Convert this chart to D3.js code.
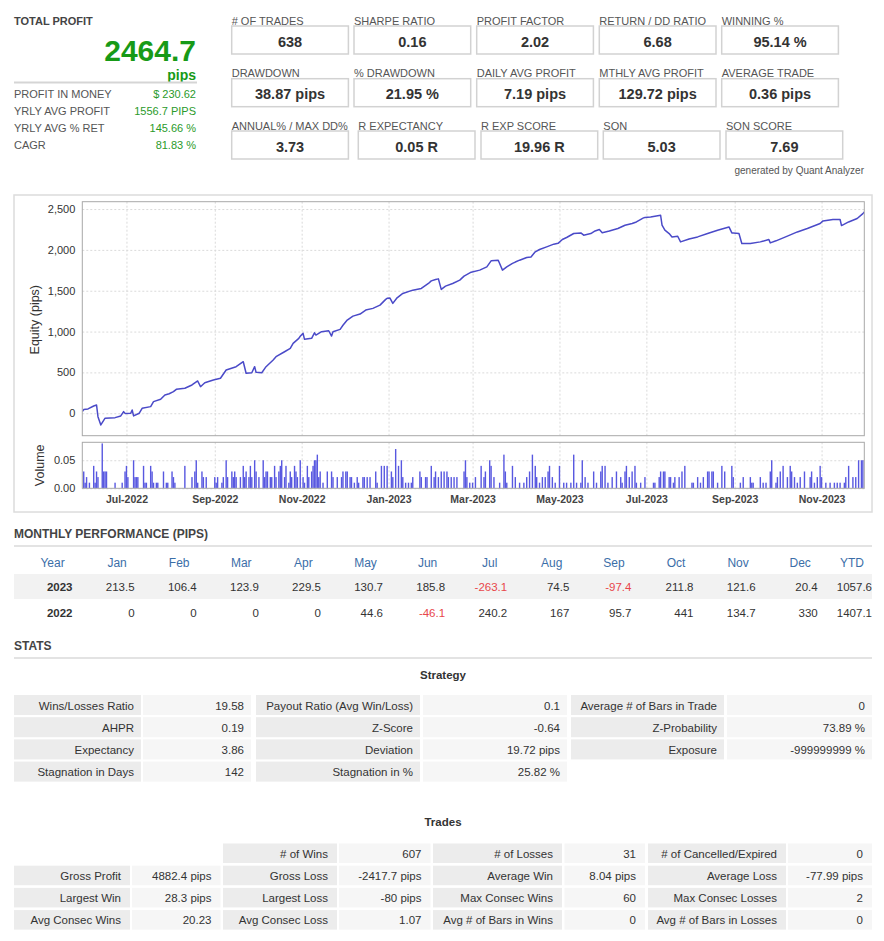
<!DOCTYPE html>
<html>
<head>
<meta charset="utf-8">
<script src="https://cdn.jsdelivr.net/npm/d3@7"></script>
<style>
  html, body { margin: 0; padding: 0; background: #fff; }
  svg { display: block; font-family: "Liberation Sans", Arial, Helvetica, sans-serif; }
</style>
</head>
<body>
<script>
// ---------------- DATA ----------------
const totalProfit = "2464.7";
const totalUnit = "pips";
const summaryLabels = ["PROFIT IN MONEY", "YRLY AVG PROFIT", "YRLY AVG % RET", "CAGR"];
const summaryValues = ["$ 230.62", "1556.7 PIPS", "145.66 %", "81.83 %"];

const boxLabels = [
  ["# OF TRADES", "SHARPE RATIO", "PROFIT FACTOR", "RETURN / DD RATIO", "WINNING %"],
  ["DRAWDOWN", "% DRAWDOWN", "DAILY AVG PROFIT", "MTHLY AVG PROFIT", "AVERAGE TRADE"],
  ["ANNUAL% / MAX DD%", "R EXPECTANCY", "R EXP SCORE", "SQN", "SQN SCORE"]
];
const boxValues = [
  ["638", "0.16", "2.02", "6.68", "95.14 %"],
  ["38.87 pips", "21.95 %", "7.19 pips", "129.72 pips", "0.36 pips"],
  ["3.73", "0.05 R", "19.96 R", "5.03", "7.69"]
];

// equity curve [date, pips]
const equity = [
["2022-05-31",20],["2022-06-01",45],["2022-06-04",53],["2022-06-08",89],["2022-06-10",101],["2022-06-11",-42],["2022-06-13",-143],["2022-06-16",-61],["2022-06-23",-54],["2022-06-27",-33],["2022-06-29",20],["2022-06-30",-2],
["2022-07-04",0],["2022-07-05",40],["2022-07-06",-33],["2022-07-10",0],["2022-07-12",61],["2022-07-18",81],["2022-07-20",142],["2022-07-25",171],["2022-07-28",224],["2022-07-31",239],
["2022-08-03",264],["2022-08-05",293],["2022-08-11",306],["2022-08-16",346],["2022-08-20",395],["2022-08-22",325],["2022-08-25",374],["2022-08-31",406],
["2022-09-05",428],["2022-09-09",529],["2022-09-16",570],["2022-09-21",631],["2022-09-23",489],["2022-09-27",496],["2022-09-29",570],["2022-09-30",501],
["2022-10-04",496],["2022-10-07",570],["2022-10-12",652],["2022-10-14",692],["2022-10-20",753],["2022-10-24",795],["2022-10-26",856],["2022-10-30",917],["2022-10-31",942],
["2022-11-02",978],["2022-11-03",905],["2022-11-08",917],["2022-11-10",985],["2022-11-11",957],["2022-11-15",998],["2022-11-20",1010],["2022-11-22",945],["2022-11-23",998],["2022-11-28",1027],["2022-11-30",1077],
["2022-12-03",1141],["2022-12-07",1189],["2022-12-12",1214],["2022-12-16",1263],["2022-12-21",1284],["2022-12-26",1324],["2022-12-30",1394],["2022-12-31",1407],
["2023-01-02",1410],["2023-01-04",1345],["2023-01-07",1413],["2023-01-11",1467],["2023-01-18",1507],["2023-01-24",1528],["2023-01-29",1589],["2023-01-31",1621],
["2023-02-03",1638],["2023-02-05",1645],["2023-02-07",1516],["2023-02-10",1556],["2023-02-15",1589],["2023-02-20",1630],["2023-02-23",1679],["2023-02-28",1727],
["2023-03-06",1752],["2023-03-11",1792],["2023-03-14",1866],["2023-03-19",1874],["2023-03-22",1752],["2023-03-25",1792],["2023-03-29",1834],["2023-03-31",1851],
["2023-04-03",1874],["2023-04-08",1907],["2023-04-11",1914],["2023-04-14",1976],["2023-04-17",2005],["2023-04-22",2037],["2023-04-27",2070],["2023-04-30",2080],
["2023-05-03",2127],["2023-05-06",2152],["2023-05-11",2201],["2023-05-16",2208],["2023-05-18",2180],["2023-05-23",2200],["2023-05-26",2232],["2023-05-29",2249],["2023-05-31",2211],
["2023-06-05",2232],["2023-06-11",2262],["2023-06-16",2302],["2023-06-21",2323],["2023-06-24",2342],["2023-06-29",2392],["2023-06-30",2397],
["2023-07-04",2404],["2023-07-11",2424],["2023-07-12",2302],["2023-07-14",2241],["2023-07-17",2200],["2023-07-19",2159],["2023-07-23",2167],["2023-07-25",2098],["2023-07-31",2134],
["2023-08-06",2159],["2023-08-13",2200],["2023-08-20",2241],["2023-08-28",2281],["2023-08-30",2208],["2023-08-31",2208],
["2023-09-04",2200],["2023-09-06",2078],["2023-09-12",2078],["2023-09-19",2098],["2023-09-25",2127],["2023-09-26",2086],["2023-09-30",2111],
["2023-10-08",2168],["2023-10-15",2220],["2023-10-22",2262],["2023-10-31",2323],
["2023-11-02",2355],["2023-11-09",2372],["2023-11-14",2372],["2023-11-15",2298],["2023-11-20",2342],["2023-11-26",2384],["2023-11-30",2444],["2023-12-01",2464.7]
];

// volume (lots) [date, lots]
const volume = [
["2022-06-01",0.03],["2022-06-02",0.01],["2022-06-03",0.02],["2022-06-05",0.01],["2022-06-08",0.04],["2022-06-09",0.01],["2022-06-10",0.03],["2022-06-11",0.02],["2022-06-14",0.08],["2022-06-15",0.03],["2022-06-16",0.03],["2022-06-17",0.03],["2022-06-23",0.01],["2022-06-28",0.01],["2022-06-30",0.03],
["2022-07-01",0.04],["2022-07-02",0.02],["2022-07-06",0.05],["2022-07-07",0.02],["2022-07-08",0.02],["2022-07-09",0.02],["2022-07-13",0.04],["2022-07-14",0.01],["2022-07-15",0.01],["2022-07-18",0.04],["2022-07-19",0.03],["2022-07-20",0.01],["2022-07-22",0.01],["2022-07-23",0.01],["2022-07-27",0.03],["2022-07-29",0.01],["2022-07-30",0.01],
["2022-08-02",0.03],["2022-08-03",0.02],["2022-08-04",0.01],["2022-08-11",0.04],["2022-08-16",0.02],["2022-08-18",0.03],["2022-08-19",0.05],["2022-08-20",0.01],["2022-08-23",0.03],["2022-08-24",0.02],["2022-08-26",0.02],
["2022-09-01",0.02],["2022-09-02",0.01],["2022-09-03",0.02],["2022-09-06",0.01],["2022-09-07",0.02],["2022-09-09",0.05],["2022-09-10",0.02],["2022-09-13",0.03],["2022-09-14",0.02],["2022-09-15",0.03],["2022-09-16",0.02],["2022-09-19",0.02],["2022-09-21",0.04],["2022-09-22",0.02],["2022-09-23",0.03],["2022-09-25",0.02],["2022-09-26",0.04],["2022-09-27",0.02],["2022-09-29",0.05],["2022-09-30",0.03],
["2022-10-02",0.02],["2022-10-05",0.05],["2022-10-06",0.02],["2022-10-07",0.03],["2022-10-08",0.03],["2022-10-10",0.02],["2022-10-11",0.02],["2022-10-13",0.04],["2022-10-14",0.02],["2022-10-16",0.03],["2022-10-17",0.04],["2022-10-18",0.05],["2022-10-20",0.02],["2022-10-21",0.04],["2022-10-23",0.01],["2022-10-24",0.03],["2022-10-25",0.02],["2022-10-27",0.04],["2022-10-28",0.03],["2022-10-29",0.02],["2022-10-31",0.05],
["2022-11-02",0.02],["2022-11-03",0.01],["2022-11-05",0.04],["2022-11-06",0.02],["2022-11-08",0.03],["2022-11-09",0.04],["2022-11-10",0.05],["2022-11-11",0.05],["2022-11-12",0.06],["2022-11-13",0.02],["2022-11-14",0.03],["2022-11-16",0.01],["2022-11-19",0.03],["2022-11-22",0.03],["2022-11-23",0.02],["2022-11-26",0.02],["2022-11-29",0.02],["2022-11-30",0.03],
["2022-12-02",0.03],["2022-12-03",0.03],["2022-12-05",0.02],["2022-12-06",0.02],["2022-12-08",0.01],["2022-12-10",0.02],["2022-12-11",0.01],["2022-12-14",0.02],["2022-12-15",0.02],["2022-12-17",0.02],["2022-12-19",0.02],["2022-12-23",0.03],["2022-12-24",0.01],["2022-12-27",0.04],["2022-12-29",0.04],["2022-12-31",0.04],
["2023-01-03",0.03],["2023-01-04",0.02],["2023-01-06",0.07],["2023-01-08",0.04],["2023-01-10",0.05],["2023-01-11",0.02],["2023-01-13",0.01],["2023-01-15",0.01],["2023-01-17",0.01],["2023-01-18",0.02],["2023-01-23",0.03],["2023-01-24",0.02],["2023-01-27",0.02],["2023-01-28",0.02],["2023-01-31",0.04],
["2023-02-02",0.02],["2023-02-03",0.03],["2023-02-05",0.02],["2023-02-07",0.03],["2023-02-09",0.03],["2023-02-11",0.03],["2023-02-12",0.02],["2023-02-14",0.02],["2023-02-16",0.02],["2023-02-18",0.02],["2023-02-23",0.03],["2023-02-24",0.05],["2023-02-25",0.02],["2023-02-27",0.01],
["2023-03-01",0.01],["2023-03-03",0.02],["2023-03-07",0.04],["2023-03-09",0.02],["2023-03-10",0.03],["2023-03-13",0.05],["2023-03-14",0.04],["2023-03-16",0.02],["2023-03-20",0.01],["2023-03-23",0.06],["2023-03-24",0.03],["2023-03-25",0.01],["2023-03-29",0.04],["2023-03-31",0.02],
["2023-04-03",0.01],["2023-04-06",0.01],["2023-04-08",0.02],["2023-04-10",0.03],["2023-04-12",0.06],["2023-04-14",0.04],["2023-04-15",0.02],["2023-04-17",0.01],["2023-04-19",0.02],["2023-04-21",0.02],["2023-04-23",0.03],["2023-04-24",0.04],["2023-04-26",0.02],["2023-04-28",0.01],
["2023-05-01",0.04],["2023-05-04",0.01],["2023-05-06",0.01],["2023-05-09",0.01],["2023-05-11",0.06],["2023-05-13",0.01],["2023-05-16",0.01],["2023-05-17",0.05],["2023-05-19",0.02],["2023-05-21",0.01],["2023-05-25",0.03],["2023-05-27",0.01],["2023-05-30",0.03],["2023-05-31",0.04],
["2023-06-02",0.04],["2023-06-04",0.01],["2023-06-07",0.02],["2023-06-10",0.03],["2023-06-13",0.02],["2023-06-14",0.01],["2023-06-16",0.03],["2023-06-17",0.04],["2023-06-19",0.02],["2023-06-21",0.03],["2023-06-23",0.04],["2023-06-24",0.01],["2023-06-27",0.01],["2023-06-30",0.02],
["2023-07-06",0.01],["2023-07-07",0.01],["2023-07-10",0.02],["2023-07-11",0.03],["2023-07-13",0.03],["2023-07-14",0.03],["2023-07-17",0.02],["2023-07-18",0.02],["2023-07-20",0.01],["2023-07-21",0.02],["2023-07-24",0.02],["2023-07-26",0.03],["2023-07-28",0.04],
["2023-08-02",0.01],["2023-08-03",0.01],["2023-08-06",0.02],["2023-08-08",0.01],["2023-08-10",0.02],["2023-08-13",0.03],["2023-08-14",0.03],["2023-08-16",0.03],["2023-08-17",0.03],["2023-08-20",0.01],["2023-08-23",0.04],["2023-08-25",0.03],["2023-08-30",0.04],["2023-08-31",0.02],
["2023-09-05",0.01],["2023-09-07",0.02],["2023-09-12",0.02],["2023-09-13",0.01],["2023-09-14",0.01],["2023-09-19",0.02],["2023-09-21",0.01],["2023-09-23",0.01],["2023-09-26",0.03],["2023-09-27",0.05],["2023-09-30",0.01],
["2023-10-01",0.02],["2023-10-03",0.03],["2023-10-05",0.04],["2023-10-08",0.02],["2023-10-10",0.04],["2023-10-11",0.03],["2023-10-13",0.02],["2023-10-15",0.01],["2023-10-17",0.02],["2023-10-20",0.03],["2023-10-24",0.02],["2023-10-25",0.03],["2023-10-27",0.01],["2023-10-29",0.02],["2023-10-31",0.04],
["2023-11-01",0.02],["2023-11-04",0.01],["2023-11-07",0.01],["2023-11-10",0.01],["2023-11-12",0.01],["2023-11-14",0.01],["2023-11-17",0.01],["2023-11-18",0.02],["2023-11-20",0.04],["2023-11-23",0.02],["2023-11-25",0.02],["2023-11-27",0.05],["2023-11-29",0.05],["2023-11-30",0.05]
];

const equityTicks = [0, 500, 1000, 1500, 2000, 2500];
const volumeTicks = [0, 0.05];

const monthNames = ["Jan","Feb","Mar","Apr","May","Jun","Jul","Aug","Sep","Oct","Nov","Dec"];
const perfYears = ["2023", "2022"];
const perf2023 = [213.5, 106.4, 123.9, 229.5, 130.7, 185.8, -263.1, 74.5, -97.4, 211.8, 121.6, 20.4];
const perf2022 = [0, 0, 0, 0, 44.6, -46.1, 240.2, 167, 95.7, 441, 134.7, 330];
const perfYTD = [1057.6, 1407.1];

const strategyRows = [
  ["Wins/Losses Ratio","19.58","Payout Ratio (Avg Win/Loss)","0.1","Average # of Bars in Trade","0"],
  ["AHPR","0.19","Z-Score","-0.64","Z-Probability","73.89 %"],
  ["Expectancy","3.86","Deviation","19.72 pips","Exposure","-999999999 %"],
  ["Stagnation in Days","142","Stagnation in %","25.82 %",null,null]
];
const tradesRows = [
  [null,null,"# of Wins","607","# of Losses","31","# of Cancelled/Expired","0"],
  ["Gross Profit","4882.4 pips","Gross Loss","-2417.7 pips","Average Win","8.04 pips","Average Loss","-77.99 pips"],
  ["Largest Win","28.3 pips","Largest Loss","-80 pips","Max Consec Wins","60","Max Consec Losses","2"],
  ["Avg Consec Wins","20.23","Avg Consec Loss","1.07","Avg # of Bars in Wins","0","Avg # of Bars in Losses","0"]
];

// ---------------- DRAW ----------------
const parse = d3.timeParse("%Y-%m-%d");
const eq = equity.map(d => ({date: parse(d[0]), v: d[1]}));
const vol = volume.map(d => ({date: parse(d[0]), v: d[1]}));

const svg = d3.select("body").append("svg").attr("width", 884).attr("height", 941);

const GREEN = "#179a17", LABEL = "#555", DARK = "#333";

// ---- top-left summary
svg.append("text").attr("x", 14).attr("y", 24.5).attr("font-size", 11).attr("font-weight", "bold").attr("fill", "#444").text("TOTAL PROFIT");
svg.append("text").attr("x", 196).attr("y", 60.5).attr("text-anchor", "end").attr("font-size", 30).attr("font-weight", "bold").attr("fill", GREEN).text(totalProfit);
svg.append("text").attr("x", 196).attr("y", 79.5).attr("text-anchor", "end").attr("font-size", 14).attr("font-weight", "bold").attr("fill", GREEN).text(totalUnit);
svg.append("line").attr("x1", 14).attr("x2", 197).attr("y1", 82.5).attr("y2", 82.5).attr("stroke", "#d5d5d5").attr("stroke-width", 2);
summaryLabels.forEach((l, i) => {
  const yy = 98 + i * 17;
  svg.append("text").attr("x", 14).attr("y", yy).attr("font-size", 11).attr("fill", LABEL).text(l);
  svg.append("text").attr("x", 196).attr("y", yy).attr("text-anchor", "end").attr("font-size", 11).attr("fill", "#2a9a2a").text(summaryValues[i]);
});

// ---- stat boxes
const rowTop = [26, 78.7, 131];
const boxX = [[231.7, 354, 476.7, 599.3, 721.7], [231.7, 354, 476.7, 599.3, 721.7], [231.7, 358.3, 481, 603.3, 726]];
const boxW = 116.7, boxH = 28;
boxLabels.forEach((row, r) => {
  row.forEach((lab, c) => {
    const bx = boxX[r][c], by = rowTop[r];
    svg.append("text").attr("x", bx).attr("y", by - 1.5).attr("font-size", 11).attr("fill", LABEL).text(lab);
    svg.append("rect").attr("x", bx).attr("y", by).attr("width", boxW).attr("height", boxH)
      .attr("fill", "#fff").attr("stroke", "#d2d2d2").attr("stroke-width", 1.5);
    svg.append("text").attr("x", bx + boxW / 2).attr("y", by + boxH / 2 + 6.5).attr("text-anchor", "middle")
      .attr("font-size", 14.5).attr("font-weight", "bold").attr("fill", DARK).text(boxValues[r][c]);
  });
});
svg.append("text").attr("x", 864).attr("y", 174).attr("text-anchor", "end").attr("font-size", 10).attr("fill", LABEL).text("generated by Quant Analyzer");

// ---- chart panel
svg.append("rect").attr("x", 14).attr("y", 195).attr("width", 858).attr("height", 317)
  .attr("fill", "#fff").attr("stroke", "#dcdcdc").attr("stroke-width", 1.5);

const PL = 82.3, PR = 864.3, ET = 201.7, EB = 435.7, VT = 442.3, VB = 488.3;
const x = d3.scaleTime().domain(d3.extent(eq, d => d.date)).range([PL, PR]);
const y = d3.scaleLinear().domain([-275, 2590]).range([EB, ET]);
const yv = d3.scaleLinear().domain([0, 0.082]).range([VB, VT]);
const monthTicks = x.ticks(d3.timeMonth.every(2));

const defs = svg.append("defs");
defs.append("clipPath").attr("id", "clipE").append("rect").attr("x", PL).attr("y", ET).attr("width", PR - PL).attr("height", EB - ET);
defs.append("clipPath").attr("id", "clipV").append("rect").attr("x", PL).attr("y", VT).attr("width", PR - PL).attr("height", VB - VT);

function panel(top, bottom, yScale, ticks, fmt) {
  svg.append("rect").attr("x", PL).attr("y", top).attr("width", PR - PL).attr("height", bottom - top).attr("fill", "#fff");
  svg.append("g").attr("transform", `translate(${PL},0)`)
    .call(d3.axisLeft(yScale).tickValues(ticks).tickSize(-(PR - PL)).tickFormat(""))
    .call(g => g.select(".domain").remove())
    .call(g => g.selectAll("line").attr("stroke", "#dadada").attr("stroke-dasharray", "2,2"));
  svg.append("g").attr("transform", `translate(0,${bottom})`)
    .call(d3.axisBottom(x).tickValues(monthTicks).tickSize(-(bottom - top)).tickFormat(""))
    .call(g => g.select(".domain").remove())
    .call(g => g.selectAll("line").attr("stroke", "#dadada").attr("stroke-dasharray", "2,2"));
  svg.append("g").attr("transform", `translate(${PL},0)`)
    .call(d3.axisLeft(yScale).tickValues(ticks).tickSize(0).tickPadding(7).tickFormat(fmt))
    .call(g => g.select(".domain").remove())
    .call(g => g.selectAll("text").attr("font-size", 11).attr("fill", DARK).attr("font-family", "Liberation Sans, Arial, sans-serif"));
}
panel(ET, EB, y, equityTicks, d3.format(","));
panel(VT, VB, yv, volumeTicks, d3.format(".2f"));

// equity line
svg.append("path").datum(eq).attr("clip-path", "url(#clipE)")
  .attr("fill", "none").attr("stroke", "#4a4ac8").attr("stroke-width", 1.5).attr("stroke-linejoin", "round")
  .attr("d", d3.line().x(d => x(d.date)).y(d => y(d.v)));

// volume bars
svg.append("g").attr("clip-path", "url(#clipV)").selectAll("rect").data(vol).join("rect")
  .attr("x", d => x(d.date) - 0.7).attr("width", 1.4)
  .attr("y", d => yv(d.v)).attr("height", d => yv(0) - yv(d.v))
  .attr("fill", "#5858e0");

// plot borders
[[ET, EB], [VT, VB]].forEach(([t, b]) => {
  svg.append("rect").attr("x", PL).attr("y", t).attr("width", PR - PL).attr("height", b - t)
    .attr("fill", "none").attr("stroke", "#a8a8a8").attr("stroke-width", 1);
});

// x axis labels
svg.append("g").attr("transform", `translate(0,${VB})`)
  .call(d3.axisBottom(x).tickValues(monthTicks).tickSize(0).tickPadding(7).tickFormat(d3.timeFormat("%b-%Y")))
  .call(g => g.select(".domain").remove())
  .call(g => g.selectAll("text").attr("font-size", 10.5).attr("font-weight", "bold").attr("fill", "#444").attr("font-family", "Liberation Sans, Arial, sans-serif"));

// axis titles
svg.append("text").attr("transform", `translate(39,${(ET + EB) / 2 + 1}) rotate(-90)`).attr("text-anchor", "middle")
  .attr("font-size", 12.5).attr("fill", DARK).text("Equity (pips)");
svg.append("text").attr("transform", `translate(44,${(VT + VB) / 2}) rotate(-90)`).attr("text-anchor", "middle")
  .attr("font-size", 12.5).attr("fill", DARK).text("Volume");

// ---- monthly performance
svg.append("text").attr("x", 14).attr("y", 537.5).attr("font-size", 12).attr("font-weight", "bold").attr("fill", "#444").text("MONTHLY PERFORMANCE (PIPS)");
svg.append("line").attr("x1", 14).attr("x2", 872).attr("y1", 546).attr("y2", 546).attr("stroke", "#e3e3e3").attr("stroke-width", 2);

const colRight = i => (i <= 12 ? 72.5 + 62.1 * i : 872);
const headerX = i => (i === 0 ? 52.5 : i === 13 ? 852 : colRight(i) - 17.5);
const headers = ["Year", ...monthNames, "YTD"];
headers.forEach((h, i) => {
  svg.append("text").attr("x", headerX(i)).attr("y", 567).attr("text-anchor", "middle")
    .attr("font-size", 12).attr("fill", "#3b6ea8").text(h);
});
svg.append("rect").attr("x", 14).attr("y", 574).attr("width", 858).attr("height", 25).attr("fill", "#f2f2f2");
const perfRows = [perf2023, perf2022];
perfRows.forEach((vals, r) => {
  const yy = 591 + r * 26;
  svg.append("text").attr("x", colRight(0)).attr("y", yy).attr("text-anchor", "end")
    .attr("font-size", 11.5).attr("font-weight", "bold").attr("fill", DARK).text(perfYears[r]);
  vals.forEach((v, i) => {
    svg.append("text").attr("x", colRight(i + 1)).attr("y", yy).attr("text-anchor", "end")
      .attr("font-size", 11.5).attr("fill", v < 0 ? "#e8464a" : DARK).text(String(v));
  });
  svg.append("text").attr("x", colRight(13)).attr("y", yy).attr("text-anchor", "end")
    .attr("font-size", 11.5).attr("fill", DARK).text(String(perfYTD[r]));
});

// ---- stats
svg.append("text").attr("x", 14).attr("y", 650).attr("font-size", 12).attr("font-weight", "bold").attr("fill", "#444").text("STATS");
svg.append("line").attr("x1", 14).attr("x2", 872).attr("y1", 658).attr("y2", 658).attr("stroke", "#e3e3e3").attr("stroke-width", 2);

function statTable(title, titleY, rows, cols, top, rowH, pitch, pad) {
  svg.append("text").attr("x", 443).attr("y", titleY).attr("text-anchor", "middle")
    .attr("font-size", 11.5).attr("font-weight", "bold").attr("fill", DARK).text(title);
  rows.forEach((row, r) => {
    const ry = top + r * pitch;
    row.forEach((cell, c) => {
      if (cell === null) return;
      const [x0, x1] = cols[c];
      svg.append("rect").attr("x", x0).attr("y", ry).attr("width", x1 - x0).attr("height", rowH)
        .attr("fill", c % 2 === 0 ? "#ececec" : "#f6f6f6");
      svg.append("text").attr("x", x1 - pad).attr("y", ry + rowH / 2 + 4.5).attr("text-anchor", "end")
        .attr("font-size", 11.5).attr("fill", DARK).text(cell);
    });
  });
}
statTable("Strategy", 679, strategyRows,
  [[14, 141], [143, 251], [256, 420], [423, 567], [571, 724], [727, 872]],
  695, 20, 22.2, 7);
statTable("Trades", 826, tradesRows,
  [[14, 130], [132, 220.5], [223, 337], [339, 430.5], [433, 562], [564.5, 645], [648, 786], [788, 872]],
  843.5, 19.5, 22.2, 9);
</script>
</body>
</html>
